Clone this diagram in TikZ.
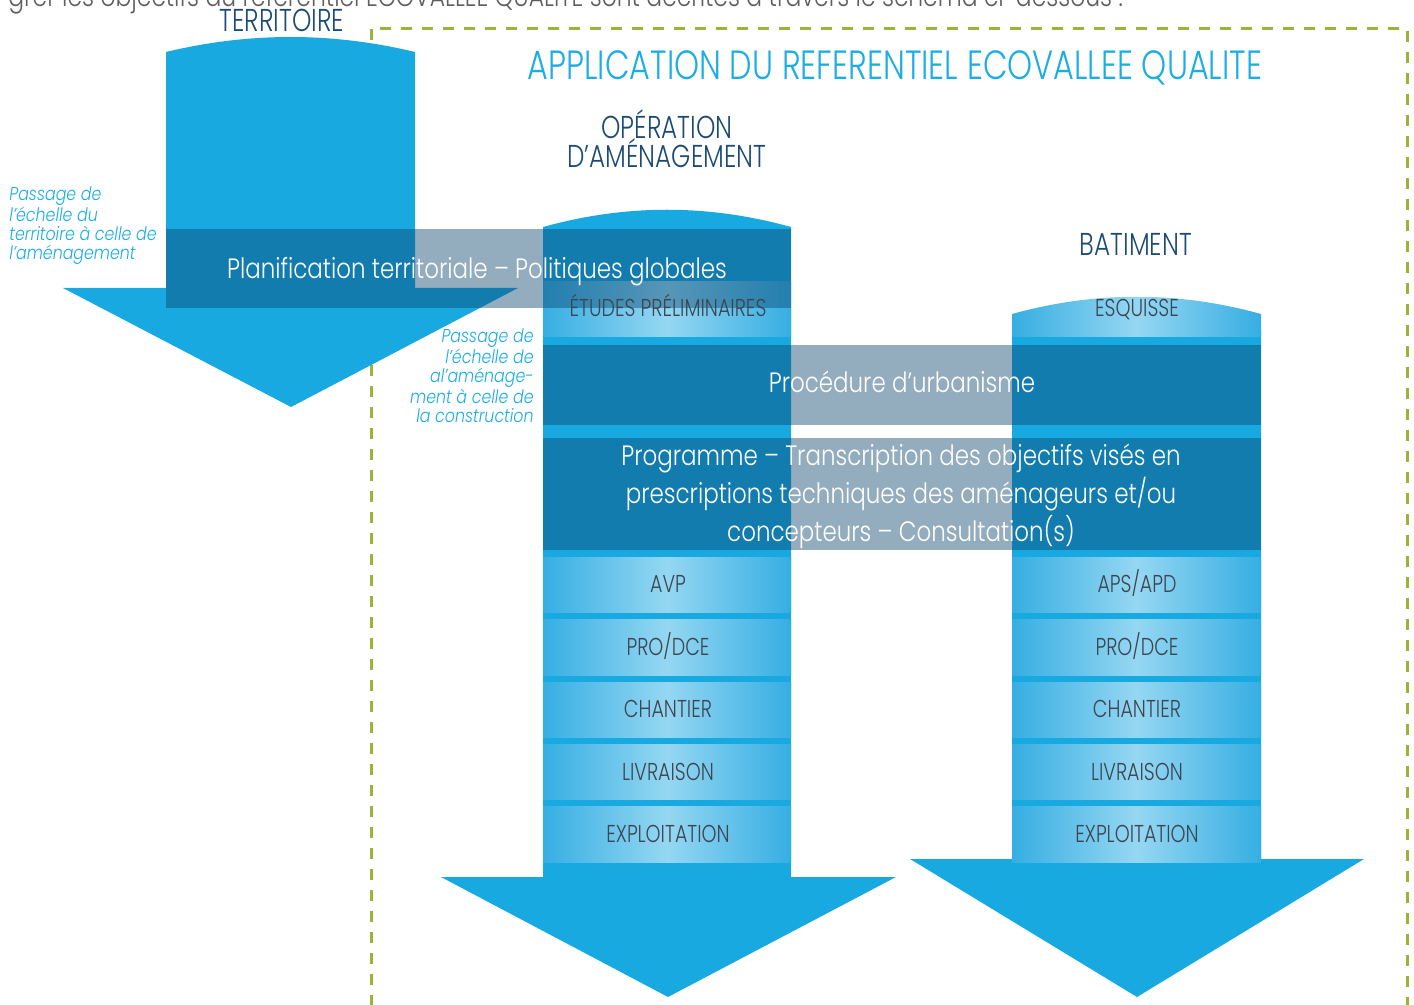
\documentclass[tikz,border=0pt]{standalone}
\usepackage{fontspec}
\usetikzlibrary{fadings}

% Condensed geometric faces for capitals, running text and side notes
\newfontfamily\capsf[FakeStretch=0.78]{Poppins Light}
\newfontfamily\lowf[FakeStretch=0.82]{Poppins Light}
\newfontfamily\notef[FakeStretch=0.85]{Poppins Light Italic}

\definecolor{arrowblue}{HTML}{19A9E1}
\definecolor{celledge}{HTML}{36AEE3}
\definecolor{cellmid}{HTML}{95D7F2}
\definecolor{bandnavy}{HTML}{0A446D}
\definecolor{titlenavy}{HTML}{1C4B75}
\definecolor{skyblue}{HTML}{1BADE4}
\definecolor{labelgrey}{HTML}{3C4550}
\definecolor{bodygrey}{HTML}{5E5E5E}
\definecolor{dashgreen}{HTML}{9AB43A}

% Translucent bands: a little denser in the middle than at the ends
\tikzfading[name=bandfade, left color=transparent!56, middle color=transparent!38, right color=transparent!56]

\tikzset{
  flow/.style={fill=arrowblue},
  cell/.style={left color=celledge, right color=celledge, middle color=cellmid},
  band/.style={fill=bandnavy, path fading=bandfade},
  phase/.style={font=\capsf\fontsize{12.2}{14}\selectfont, text=labelgrey, inner sep=0, anchor=base},
  scaletitle/.style={font=\capsf\fontsize{15.8}{18}\selectfont, text=titlenavy, inner sep=0, anchor=base},
  bandtext/.style={font=\lowf\fontsize{14}{19}\selectfont, text=white, inner sep=0, anchor=base},
  note/.style={font=\notef\fontsize{9.3}{9.5}\selectfont, text=skyblue, inner sep=0},
}

\begin{document}
\begin{tikzpicture}[x=0.5pt, y=-0.5pt]
\useasboundingbox (0,0) rectangle (1414,1005);

% frame of the ECOVALLEE application area
\draw[dashgreen, line width=1.5pt, dash pattern=on 5.5pt off 5pt] (371,29) rectangle (1407,1040);

% territory arrow
\fill[flow] (166,52) .. controls (249,32) and (332,32) .. (415,52) -- (415,288)
  -- (518,288) -- (291,407) -- (63,288) -- (166,288) -- cycle;

% development operation column
\fill[flow] (543,227) .. controls (626,204) and (708,204) .. (791,227) -- (791,877)
  -- (896,877) -- (668,997) -- (441,877) -- (543,877) -- cycle;

% building column
\fill[flow] (1012,330) -- (1261,330) -- (1261,859) -- (1364,859) -- (1137,997)
  -- (910,859) -- (1012,859) -- cycle;

% phase cells
\path[cell] (543,282) rectangle (791,337);
\path[cell] (1012,314) .. controls (1095,291) and (1178,291) .. (1261,314)
  -- (1261,337) -- (1012,337) -- cycle;
\foreach \top/\bot in {557/612, 619/675, 682/737, 744/799, 806/862}{
  \path[cell] (543,\top) rectangle (791,\bot);
  \path[cell] (1012,\top) rectangle (1261,\bot);
}

% crossing bands
\fill[band] (166,229) rectangle (791,308);
\fill[band] (543,345) rectangle (1261,425);
\fill[band] (543,438) rectangle (1261,550);

% introduction line
\node[font=\lowf\fontsize{14.3}{16}\selectfont, text=bodygrey, inner sep=0, anchor=base west]
  (intro) at (8,7) {grer les objectifs du référentiel ECOVALLEE QUALITE sont décrites à travers le schéma ci-dessous :};

% titles
\node[scaletitle] (territoire) at (282,32) {TERRITOIRE};
\node[font=\capsf\fontsize{20.4}{24}\selectfont, text=skyblue, inner sep=0, anchor=base]
  (application) at (895,80) {APPLICATION DU REFERENTIEL ECOVALLEE QUALITE};
\node[scaletitle] (operation1) at (667,139) {OPÉRATION};
\node[scaletitle] (operation2) at (667,168) {D’AMÉNAGEMENT};
\node[scaletitle] (batiment) at (1136,256) {BATIMENT};

% band texts
\node[bandtext] (planif) at (477,279) {Planification territoriale – Politiques globales};
\node[bandtext] (urba) at (902,393) {Procédure d’urbanisme};
\node[bandtext] (prog1) at (901,466) {Programme – Transcription des objectifs visés en};
\node[bandtext] (prog2) at (901,504) {prescriptions techniques des aménageurs et/ou};
\node[bandtext] (prog3) at (901,541) {concepteurs – Consultation(s)};

% phase labels
\node[phase] (etudes) at (668,317) {ÉTUDES PRÉLIMINAIRES};
\node[phase] (esquisse) at (1137,317) {ESQUISSE};
\node[phase] (avp) at (668,592) {AVP};
\node[phase] (prodce1) at (668,655) {PRO/DCE};
\node[phase] (chantier1) at (668,717) {CHANTIER};
\node[phase] (livraison1) at (668,780) {LIVRAISON};
\node[phase] (exploit1) at (668,842) {EXPLOITATION};
\node[phase] (apsapd) at (1137,592) {APS/APD};
\node[phase] (prodce2) at (1137,655) {PRO/DCE};
\node[phase] (chantier2) at (1137,717) {CHANTIER};
\node[phase] (livraison2) at (1137,780) {LIVRAISON};
\node[phase] (exploit2) at (1137,842) {EXPLOITATION};

% side notes
\node[note, align=left, anchor=north west] (note1) at (9,186)
  {Passage de\\l’échelle du\\territoire à celle de\\l’aménagement};
\node[note, align=right, anchor=north east] (note2) at (534,328)
  {Passage de\\l’échelle de\\al’aménage-\\ment à celle de\\la construction};
\end{tikzpicture}
\end{document}
